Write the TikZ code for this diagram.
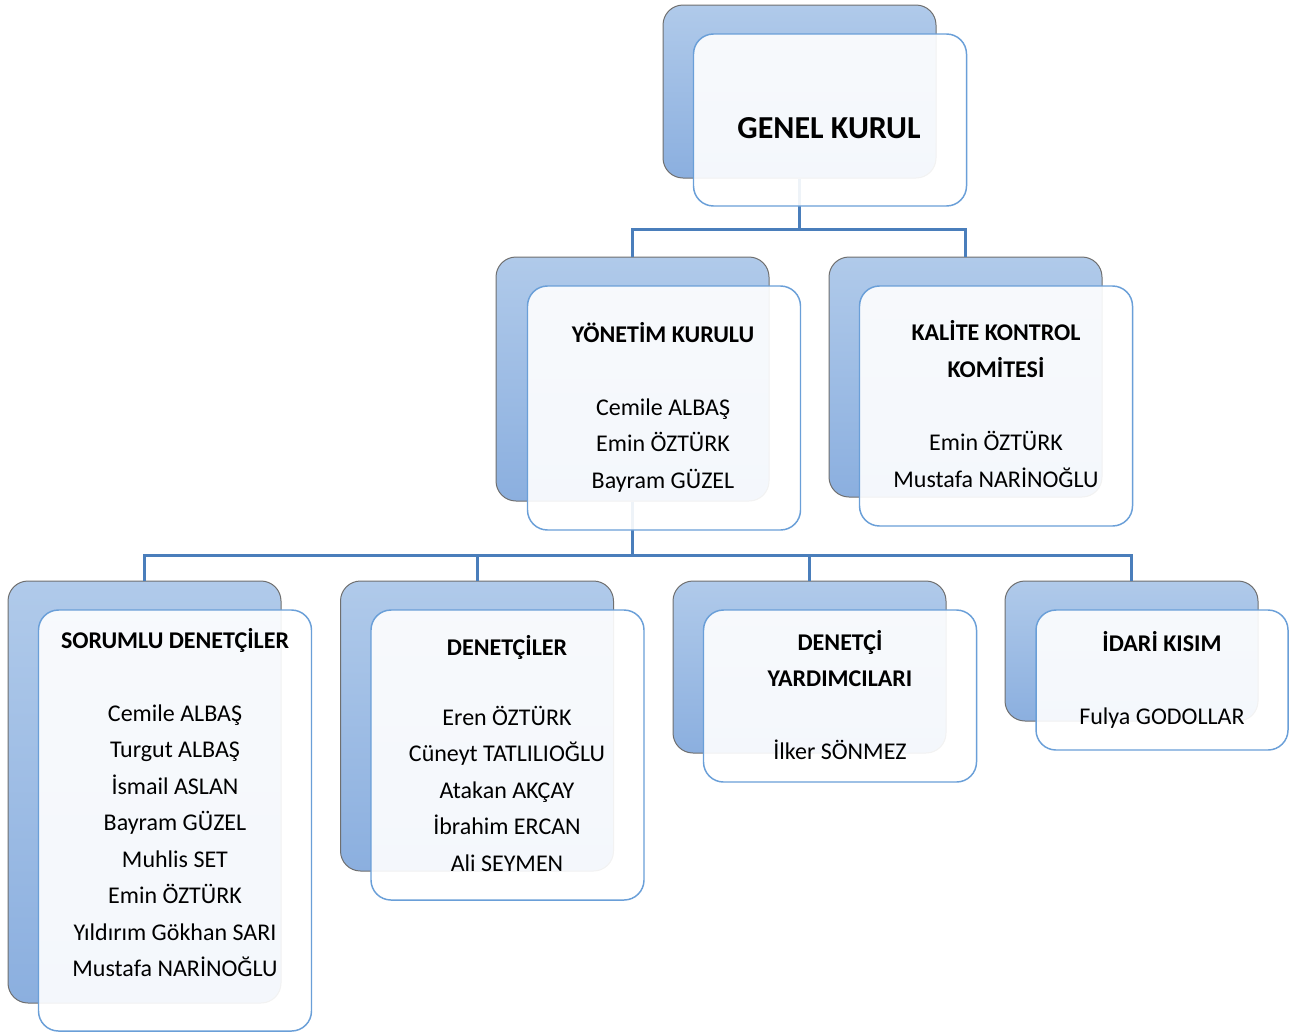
\documentclass[tikz,border=0pt]{standalone}
\usepackage{fontspec}
\setmainfont{Carlito}
\definecolor{connblue}{HTML}{4A7EBB}
\definecolor{backtop}{HTML}{B0CAEA}
\definecolor{backbot}{HTML}{8BAFDF}
\definecolor{backline}{HTML}{6F6F6F}
\definecolor{frontline}{HTML}{6A9FD8}

\begin{document}
\begin{tikzpicture}[x=0.75pt,y=-0.75pt,
	backbox/.style={draw=backline,line width=0.75pt,rounded corners=15pt,top color=backtop,bottom color=backbot,minimum width=204.75pt,inner sep=0pt},
	frontbox/.style={draw=frontline,line width=1.1pt,rounded corners=15pt,fill=white,fill opacity=0.91,minimum width=204.75pt,inner sep=0pt},
	conn/.style={draw=connblue,line width=2.25pt},
	txt/.style={align=center,font=\fontsize{18}{27.4}\selectfont,inner sep=0pt}]
	\useasboundingbox (0,0) rectangle (1301,1032);
	% back boxes
	\node[backbox,minimum height=129.75pt] (genelB) at (799.5,91.5) {};
	\node[backbox,minimum height=183pt] (yonetimB) at (632.5,379) {};
	\node[backbox,minimum height=180pt] (kaliteB) at (965.5,377) {};
	\node[backbox,minimum height=316.5pt] (sorumluB) at (144.5,792) {};
	\node[backbox,minimum height=217.5pt] (denetcilerB) at (477,726) {};
	\node[backbox,minimum height=129pt] (yardimciB) at (809.5,667) {};
	\node[backbox,minimum height=105pt,minimum width=189.75pt] (idariB) at (1131.5,651) {};
	% connectors
	\draw[conn] (genelB.south) |- ([yshift=20.25pt]yonetimB.north) -- (yonetimB.north);
	\draw[conn] (genelB.south) |- ([yshift=20.25pt]kaliteB.north) -- (kaliteB.north);
	\draw[conn] (yonetimB.south) |- ([yshift=18.75pt]sorumluB.north) -- (sorumluB.north);
	\draw[conn] (yonetimB.south) |- ([yshift=18.75pt]denetcilerB.north) -- (denetcilerB.north);
	\draw[conn] (yonetimB.south) |- ([yshift=18.75pt]yardimciB.north) -- (yardimciB.north);
	\draw[conn] (yonetimB.south) |- ([yshift=18.75pt]idariB.north) -- (idariB.north);
	% front boxes
	\node[frontbox,minimum height=129pt] (genelF) at (830,120) {};
	\node[frontbox,minimum height=183pt] (yonetimF) at (664,408) {};
	\node[frontbox,minimum height=180pt] (kaliteF) at (996,406) {};
	\node[frontbox,minimum height=315.75pt] (sorumluF) at (175,820.5) {};
	\node[frontbox,minimum height=217.5pt] (denetcilerF) at (507.5,755) {};
	\node[frontbox,minimum height=129pt] (yardimciF) at (840,696) {};
	\node[frontbox,minimum height=105pt,minimum width=189pt] (idariF) at (1162,680) {};
	% texts
	\node[txt,font=\fontsize{24}{29}\selectfont\bfseries] (genelT) at (829,128) {GENEL KURUL};
	\node[txt] (yonetimT) at (663,407) {\textbf{YÖNETİM KURULU}\\[27.4pt]Cemile ALBAŞ\\Emin ÖZTÜRK\\Bayram GÜZEL};
	\node[txt] (kaliteT) at (996,404) {\textbf{KALİTE KONTROL}\\\textbf{KOMİTESİ}\\[27.4pt]Emin ÖZTÜRK\\Mustafa NARİNOĞLU};
	\node[txt] (sorumluT) at (175,802.5) {\textbf{SORUMLU DENETÇİLER}\\[27.4pt]Cemile ALBAŞ\\Turgut ALBAŞ\\İsmail ASLAN\\Bayram GÜZEL\\Muhlis SET\\Emin ÖZTÜRK\\Yıldırım Gökhan SARI\\Mustafa NARİNOĞLU};
	\node[txt] (denetcilerT) at (507,753.5) {\textbf{DENETÇİLER}\\[25pt]Eren ÖZTÜRK\\Cüneyt TATLILIOĞLU\\Atakan AKÇAY\\İbrahim ERCAN\\Ali SEYMEN};
	\node[txt] (yardimciT) at (840,695) {\textbf{DENETÇİ}\\\textbf{YARDIMCILARI}\\[27.4pt]İlker SÖNMEZ};
	\node[txt] (idariT) at (1162,680) {\textbf{İDARİ KISIM}\\[27.4pt]Fulya GODOLLAR};
\end{tikzpicture}
\end{document}
